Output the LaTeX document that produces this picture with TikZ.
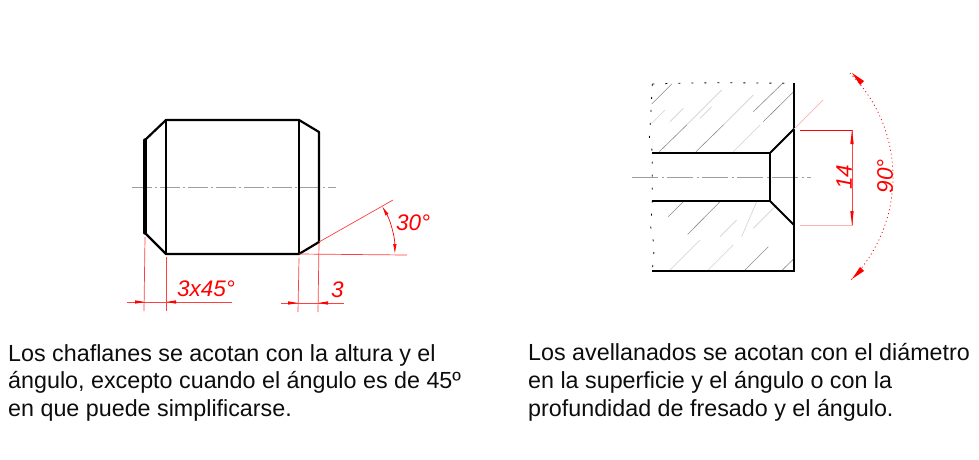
\documentclass[tikz,border=0pt]{standalone}
\usepackage{fontspec}
\setmainfont{Liberation Sans}
\usetikzlibrary{arrows.meta}
\tikzset{
  thickline/.style={line width=3.2pt,black,line cap=round,line join=round},
  midline/.style={line width=2.2pt,black,line cap=round,line join=round},
  thinline/.style={line width=1.3pt,black},
  axisline/.style={line width=0.9pt,black!38,dash pattern=on 20pt off 3pt on 1.5pt off 3.5pt},
  dimline/.style={line width=0.7pt,red!75},
  dimfaint/.style={line width=0.7pt,red!30},
  cadtext/.style={text=red,font=\fontsize{22.5}{22.5}\selectfont\itshape,inner sep=0pt},
  body/.style={font=\fontsize{23.3}{26}\selectfont,anchor=base west,inner sep=0pt,text=black!95},
  hatcha/.style={line width=0.6pt,black!45},
  hatchb/.style={line width=0.6pt,black!18},
  breakline/.style={line width=0.8pt,black,dash pattern=on 2pt off 11pt}
}
\begin{document}
\begin{tikzpicture}[x=1pt,y=-1pt]
\useasboundingbox[fill=white] (0,0) rectangle (979,459);
% left part
\draw[axisline] (132,187) -- (336,187);
\draw[midline] (166,120) -- (299,120) -- (319,132) -- (319,242) -- (299,254) -- (166,254) -- (145,233);
\draw[midline] (145,140) -- (166,120);
\draw[thickline] (145,233) -- (145,140);
\draw[line width=1.8pt] (166,120) -- (166,254);
\draw[line width=2.3pt] (299,120) -- (299,254);
\draw[dimline] (319,242) -- (393,200);
\draw[dimline] (299,254) -- (407,255);
\draw[dimline] (145,237) -- (144,311);
\draw[dimline] (166,257) -- (166,311);
\draw[dimline] (299,258) -- (298,312);
\draw[dimline] (319,243) -- (318,312);
\draw[dimline] (127,302) -- (232,302);
\draw[dimline] (281,303) -- (344,303);
\draw[red,line width=0.7pt,{Latex[length=10pt,width=3.5pt,red]}-{Latex[length=10pt,width=3.5pt,red]}] (382,206) arc[start angle=-30,end angle=0,radius=96];
\path[fill=red] (145,302) -- (135,300.3) -- (135,303.7) -- cycle
  (166,302) -- (176,300.3) -- (176,303.7) -- cycle
  (298,303) -- (288,301.3) -- (288,304.7) -- cycle
  (318,303) -- (328,301.3) -- (328,304.7) -- cycle;
\node[cadtext,anchor=base west] (t1) at (177,296) {3x45°};
\node[cadtext,anchor=base west] (t2) at (331,297) {3};
\node[cadtext,anchor=base west] (t3) at (396,230) {30°};
% right part
\begin{scope}[shift={(620,60)},x=0.3333pt,y=-0.3333pt]
\draw[hatcha] (95,132) -- (155,72);
\draw[hatchb] (95,190) -- (135,150) (150,185) -- (190,145) (240,175) -- (275,140);
\draw[hatcha] (118,275) -- (200,195);
\draw[hatchb] (200,195) -- (305,90);
\draw[hatcha] (228,275) -- (310,195);
\draw[hatchb] (310,195) -- (400,105);
\draw[hatcha] (400,155) -- (490,68);
\draw[hatchb] (340,275) -- (420,195);
\draw[hatcha] (430,185) -- (521,95);
\draw[hatcha] (145,470) -- (190,425);
\draw[hatcha] (203,523) -- (300,425);
\draw[hatchb] (365,530) -- (410,425);
\draw[hatchb] (300,530) -- (350,480) (150,630) -- (240,540) (265,630) -- (340,555) (400,505) -- (470,435);
\draw[hatcha] (375,630) -- (445,560);
\draw[hatcha] (487,630) -- (521,597);
\draw[breakline] (97,72) -- (165,70) -- (300,68) -- (521,70);
\draw[breakline] (97,72) -- (92,170) -- (88,235) -- (97,275) -- (97,425) -- (92,500) -- (103,560) -- (97,632);
\end{scope}
\draw[axisline,dash pattern=on 26pt off 4pt on 1.5pt off 3.5pt] (632,177) -- (811,177);
\draw[thinline] (794,83) -- (794,271) -- (652,271);
\draw[line width=1.9pt] (794,129) -- (770,153);
\draw[line width=1.9pt] (794,225) -- (770,201);
\draw[line width=2pt] (652,153) -- (770,153);
\draw[line width=1.3pt] (652,201) -- (770,201);
\draw[line width=1.7pt] (770,153) -- (770,201);
\draw[dimfaint] (794,129) -- (823,100);
\draw[line width=0.8pt,red] (800,130) -- (853,130);
\draw[dimfaint] (800,225) -- (853,225);
\draw[dimline] (852,130) -- (852,225);
\path[fill=red] (852,130) -- (850.3,144) -- (853.7,144) -- cycle
  (852,225) -- (850.3,211) -- (853.7,211) -- cycle;
\draw[red,line width=0.8pt,dash pattern=on 1pt off 3pt] (746,177) ++(-45:147) arc[start angle=-45,end angle=45,radius=147];
\path[fill=red] (852,73) -- (864,81) -- (860,85) -- cycle
  (852,279) -- (864,271) -- (860,267) -- cycle;
\node[cadtext,rotate=90,anchor=center] (t4) at (844,177) {14};
\node[cadtext,rotate=90,anchor=center] (t5) at (885,176) {90°};
% captions
\node[body] (a1) at (8,361) {Los chaflanes se acotan con la altura y el};
\node[body] (a2) at (8,388) {ángulo, excepto cuando el ángulo es de 45º};
\node[body] (a3) at (8,416) {en que puede simplificarse.};
\node[body] (b1) at (528,360) {Los avellanados se acotan con el diámetro};
\node[body] (b2) at (528,388) {en la superficie y el ángulo o con la};
\node[body] (b3) at (528,416) {profundidad de fresado y el ángulo.};
\end{tikzpicture}
\end{document}
